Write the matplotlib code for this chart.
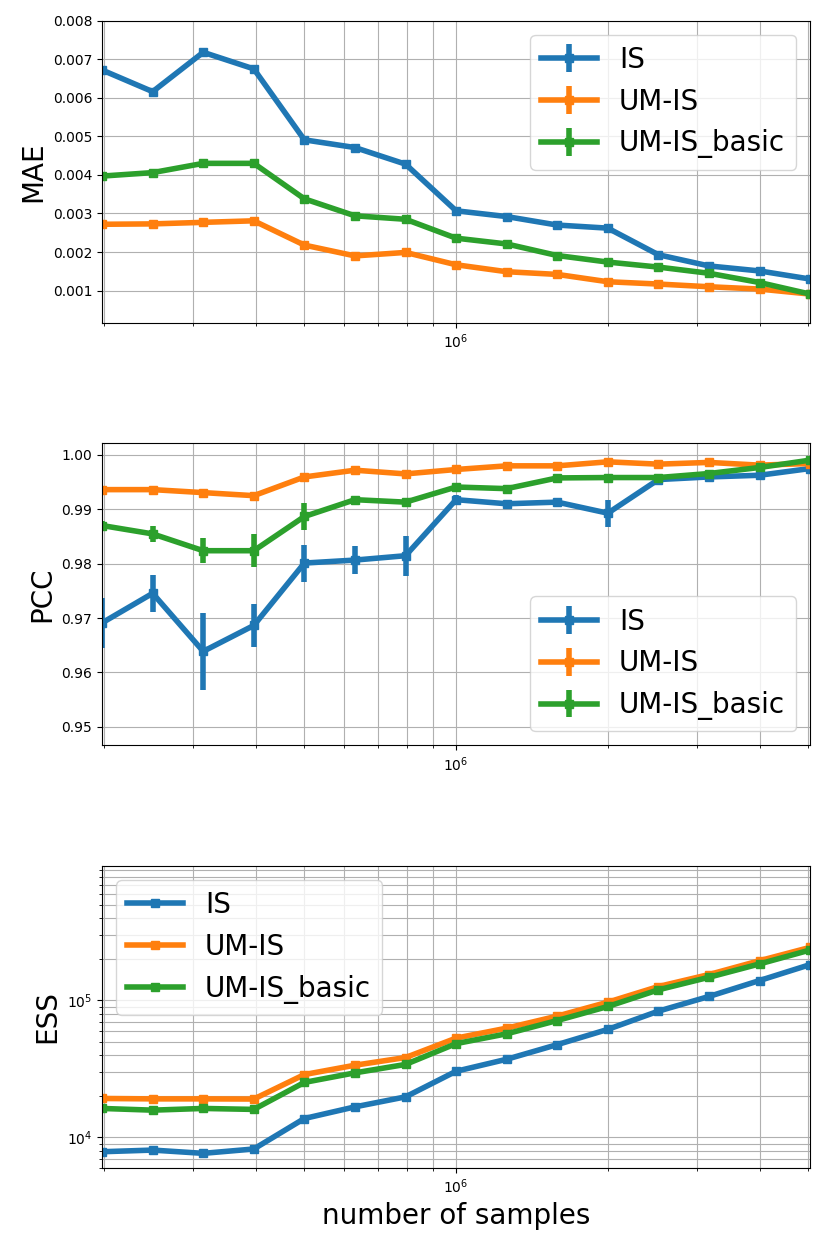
import numpy as np
import matplotlib.pyplot as plt

# number of samples (log spaced, factor 2^(1/3))
n_samples = [198425, 250000, 314980, 396850, 500000, 629961, 793701, 1000000,
             1259921, 1587401, 2000000, 2519842, 3174802, 4000000, 5039684]

labels = ['IS', 'UM-IS', 'UM-IS_basic']

# MAE
mae_is = [0.00672, 0.00616, 0.00718, 0.00675, 0.00491, 0.00471, 0.00428, 0.00307,
          0.00292, 0.00270, 0.00262, 0.00193, 0.00164, 0.00151, 0.00130]
mae_um = [0.00272, 0.00273, 0.00277, 0.00281, 0.00218, 0.00190, 0.00199, 0.00167,
          0.00149, 0.00142, 0.00123, 0.00117, 0.00110, 0.00104, 0.00091]
mae_basic = [0.00397, 0.00406, 0.00430, 0.00430, 0.00338, 0.00294, 0.00285, 0.00236,
             0.00221, 0.00191, 0.00174, 0.00161, 0.00145, 0.00121, 0.00091]
mae_is_err = [4e-5, 4e-5, 5e-5, 4e-5, 3e-5, 3e-5, 3e-5, 3e-5,
              2e-5, 2e-5, 2e-5, 2e-5, 2e-5, 2e-5, 2e-5]
mae_um_err = [2e-5] * 15
mae_basic_err = [3e-5, 3e-5, 3e-5, 3e-5, 3e-5, 2e-5, 2e-5, 2e-5,
                 2e-5, 2e-5, 2e-5, 2e-5, 2e-5, 2e-5, 2e-5]

# PCC
pcc_is = [0.96911, 0.97454, 0.96387, 0.96863, 0.98010, 0.98065, 0.98145, 0.99175,
          0.99100, 0.99130, 0.98927, 0.99545, 0.99593, 0.99624, 0.99748]
pcc_um = [0.99360, 0.99360, 0.99305, 0.99249, 0.99593, 0.99717, 0.99649, 0.99730,
          0.99797, 0.99797, 0.99871, 0.99828, 0.99860, 0.99810, 0.99840]
pcc_basic = [0.98700, 0.98546, 0.98237, 0.98237, 0.98866, 0.99175, 0.99130, 0.99408,
             0.99378, 0.99575, 0.99582, 0.99582, 0.99656, 0.99767, 0.99902]
pcc_is_err = [0.0046, 0.0034, 0.0071, 0.0039, 0.0034, 0.0025, 0.0037, 0.0008,
              0.0006, 0.0008, 0.0025, 0.0005, 0.0005, 0.0005, 0.0005]
pcc_um_err = [0.0005, 0.0004, 0.0005, 0.0005, 0.0004, 0.0004, 0.0004, 0.0003,
              0.0003, 0.0003, 0.0003, 0.0003, 0.0003, 0.0003, 0.0003]
pcc_basic_err = [0.0009, 0.0015, 0.0023, 0.0030, 0.0024, 0.0007, 0.0007, 0.0006,
                 0.0004, 0.0004, 0.0004, 0.0004, 0.0004, 0.0004, 0.0004]

# ESS
ess_is = [7850, 8070, 7640, 8220, 13730, 16700, 19760, 30400,
          37200, 47600, 61500, 83600, 107000, 139900, 182900]
ess_um = [19230, 19100, 19100, 19050, 28770, 33660, 38300, 53100,
          62800, 76900, 97200, 126500, 154700, 195300, 244500]
ess_basic = [16260, 15800, 16260, 16000, 25200, 29600, 34100, 48400,
             57100, 71400, 90400, 119700, 147800, 185000, 233800]


def main():
    fig, axes = plt.subplots(3, 1, figsize=(8.3, 12.46), dpi=100)
    fig.subplots_adjust(left=0.123, right=0.976, top=0.9834, bottom=0.0626, hspace=0.4)
    style = dict(lw=4, marker='s', markersize=6, elinewidth=4)

    ax = axes[0]
    for y, e, lab in zip([mae_is, mae_um, mae_basic], [mae_is_err, mae_um_err, mae_basic_err], labels):
        ax.errorbar(n_samples, y, yerr=e, label=lab, **style)
    ax.set_xscale('log')
    ax.set_ylim(0.00017, 0.008)
    ax.set_ylabel('MAE', fontsize=20)
    ax.legend(loc='upper right', fontsize=20)

    ax = axes[1]
    for y, e, lab in zip([pcc_is, pcc_um, pcc_basic], [pcc_is_err, pcc_um_err, pcc_basic_err], labels):
        ax.errorbar(n_samples, y, yerr=e, label=lab, **style)
    ax.set_xscale('log')
    ax.set_ylim(0.9466, 1.0021)
    ax.set_ylabel('PCC', fontsize=20)
    ax.legend(loc='lower right', fontsize=20)

    ax = axes[2]
    for y, lab in zip([ess_is, ess_um, ess_basic], labels):
        ax.plot(n_samples, y, lw=4, marker='s', markersize=6, label=lab)
    ax.set_xscale('log')
    ax.set_yscale('log')
    ax.set_ylim(5970, 9.6e5)
    ax.set_ylabel('ESS', fontsize=20)
    ax.set_xlabel('number of samples', fontsize=20)
    ax.legend(loc='upper left', fontsize=20)

    for ax in axes:
        ax.set_xlim(n_samples[0], n_samples[-1])
        ax.grid(True, which='both')

    fig.savefig('out.png', dpi=100)


if __name__ == "__main__":
    main()
